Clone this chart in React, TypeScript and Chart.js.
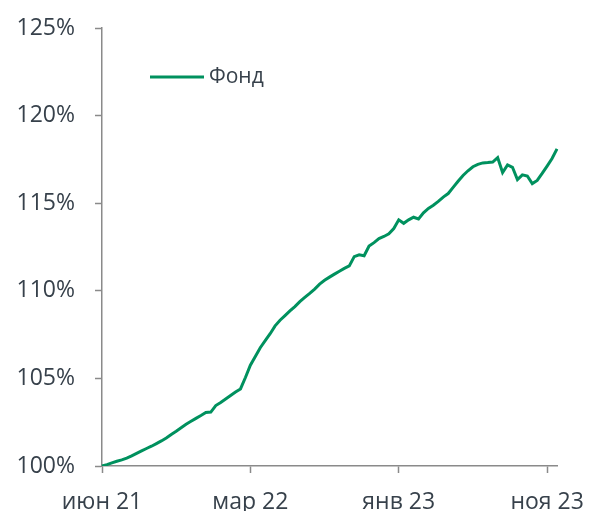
import React, { useEffect, useRef } from "react";
import { Chart, registerables } from "chart.js";

Chart.register(...registerables);

const seriesLabel = "Фонд";
const xTickLabels = ["июн 21", "мар 22", "янв 23", "ноя 23"];
const tickEvery = 30;

const fundValues = [
  100.0, 100.08, 100.18, 100.27, 100.35, 100.45, 100.58, 100.72, 100.86, 101.0,
  101.13, 101.28, 101.43, 101.6, 101.8, 101.98, 102.18, 102.38, 102.55, 102.72,
  102.88, 103.05, 103.08, 103.45, 103.62, 103.82, 104.02, 104.22, 104.4, 105.05,
  105.75, 106.25, 106.75, 107.15, 107.55, 108.0, 108.32, 108.58, 108.85, 109.1,
  109.38, 109.62, 109.85, 110.1, 110.38, 110.6, 110.78, 110.95, 111.12, 111.28,
  111.42, 111.95, 112.05, 112.0, 112.55, 112.75, 112.98, 113.1, 113.25, 113.55,
  114.05, 113.85, 114.05, 114.2, 114.1, 114.45, 114.7, 114.88, 115.1, 115.35,
  115.55, 115.9, 116.25, 116.58, 116.85, 117.08, 117.22, 117.3, 117.32, 117.35,
  117.6, 116.75, 117.18, 117.05, 116.35, 116.62, 116.55, 116.12, 116.3, 116.7,
  117.12, 117.55, 118.1,
];

const yMin = 100;
const yMax = 125;
const yStep = 5;

const GREEN = "#00915E";
const AXIS = "#8a8a8a";
const TEXT = "#37414b";
const FONT = "'Open Sans', sans-serif";

const labels = fundValues.map((_, i) =>
  i % tickEvery === 0 ? xTickLabels[i / tickEvery] ?? "" : ""
);

const insideLegend = {
  id: "insideLegend",
  afterDraw(chart: any) {
    const { ctx, chartArea } = chart;
    const ds = chart.data.datasets[0];
    const x0 = chartArea.left + 48;
    const y0 = chartArea.top + 49;
    ctx.save();
    ctx.strokeStyle = ds.borderColor;
    ctx.lineWidth = 3;
    ctx.beginPath();
    ctx.moveTo(x0, y0);
    ctx.lineTo(x0 + 54, y0);
    ctx.stroke();
    ctx.fillStyle = TEXT;
    ctx.font = `21px ${FONT}`;
    ctx.textBaseline = "middle";
    ctx.fillText(ds.label, x0 + 59, y0);
    ctx.restore();
  },
};

export default function App() {
  const ref = useRef<HTMLCanvasElement>(null);
  useEffect(() => {
    document.body.style.margin = "0";
    const chart = new Chart(ref.current!, {
      type: "line",
      data: {
        labels,
        datasets: [
          {
            label: seriesLabel,
            data: fundValues,
            borderColor: GREEN,
            backgroundColor: GREEN,
            borderWidth: 3,
            pointRadius: 0,
            tension: 0,
          },
        ],
      },
      options: {
        animation: false,
        responsive: false,
        maintainAspectRatio: false,
        layout: { padding: { top: 28, right: 34, left: 0, bottom: 0 } },
        plugins: { legend: { display: false }, tooltip: { enabled: false } },
        scales: {
          x: {
            type: "category",
            offset: false,
            border: { display: true, color: AXIS, width: 1.5 },
            grid: {
              drawOnChartArea: false,
              drawTicks: true,
              tickLength: 7,
              tickWidth: 1.5,
              tickColor: (c: any) =>
                c.index % tickEvery === 0 ? AXIS : "rgba(0,0,0,0)",
            },
            ticks: {
              autoSkip: false,
              maxRotation: 0,
              minRotation: 0,
              padding: 16,
              color: TEXT,
              font: { family: FONT, size: 23 },
            },
            afterFit: (s: any) => {
              s.height = 45;
            },
          },
          y: {
            min: yMin,
            max: yMax,
            border: { display: true, color: AXIS, width: 1.5 },
            grid: {
              drawOnChartArea: false,
              drawTicks: true,
              tickLength: 7,
              tickWidth: 1.5,
              color: AXIS,
            },
            ticks: {
              stepSize: yStep,
              padding: 20,
              color: TEXT,
              font: { family: FONT, size: 23 },
              callback: (v: any) => `${v}%`,
            },
            afterFit: (s: any) => {
              s.width = 102;
              s.paddingTop = 0;
              s.paddingBottom = 0;
            },
          },
        },
      },
      plugins: [insideLegend],
    });
    return () => chart.destroy();
  }, []);
  return (
    <div style={{ width: 591, height: 511 }}>
      <canvas ref={ref} width={591} height={511} />
    </div>
  );
}
